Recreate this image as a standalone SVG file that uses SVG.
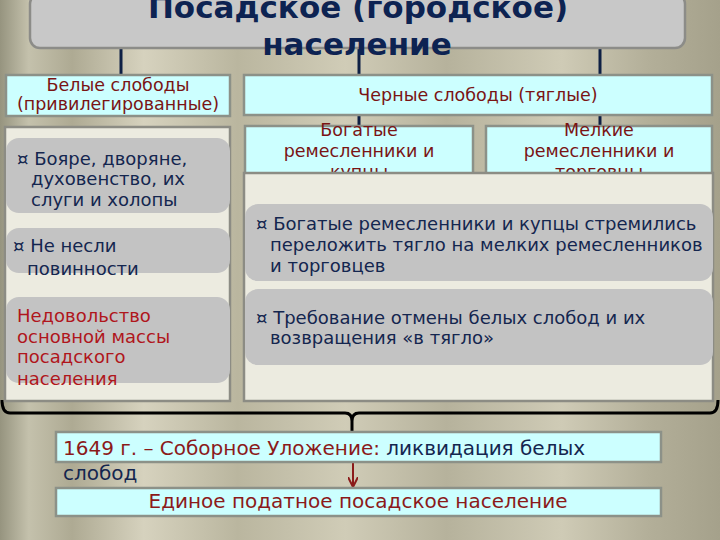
<svg xmlns="http://www.w3.org/2000/svg" width="720" height="540" viewBox="0 0 720 540">
<defs>
<linearGradient id="bg" x1="0" y1="0" x2="1" y2="0">
<stop offset="0" stop-color="#96947f"/>
<stop offset="0.04" stop-color="#c4c1ac"/>
<stop offset="0.1" stop-color="#aeaa93"/>
<stop offset="0.2" stop-color="#d6d2be"/>
<stop offset="0.33" stop-color="#bab69f"/>
<stop offset="0.48" stop-color="#d0ccb7"/>
<stop offset="0.62" stop-color="#b6b29c"/>
<stop offset="0.78" stop-color="#cfcbb6"/>
<stop offset="0.9" stop-color="#b3af99"/>
<stop offset="1" stop-color="#a5a18b"/>
</linearGradient>
<marker id="arr" viewBox="0 0 10 10" refX="9" refY="5" markerWidth="5" markerHeight="5" orient="auto">
<path d="M0,0 L10,5 L0,10" fill="none" stroke="#8b1a1a" stroke-width="2"/>
</marker>
<style>
text{font-family:"DejaVu Sans","Verdana",sans-serif}
.title{font-size:31px;font-weight:bold;fill:#0d2352;text-anchor:middle}
.cyan{fill:#ccffff;stroke:#8c9188;stroke-width:2.5}
.panel{fill:#ecebe0;stroke:#8c8c84;stroke-width:2.5}
.gray{fill:#c3c3c3}
.hdr{font-size:17.5px;fill:#7a1414;text-anchor:middle}
.body{font-size:18px;fill:#14264f}
.red{font-size:18px;fill:#b0161c}
.bot{font-size:20px}
.rd{fill:#8b1a1a}
.nv{fill:#14264f}
.line{stroke:#0e2044;stroke-width:3;fill:none}
.arrow{stroke:#8b1a1a;stroke-width:2;fill:none;marker-end:url(#arr)}
</style>
</defs>
<rect x="0" y="0" width="720" height="540" fill="url(#bg)"/>

<g id="connectors">
<line class="line" x1="121" y1="46" x2="121" y2="75"/>
<line class="line" x1="359" y1="46" x2="359" y2="126"/>
<line class="line" x1="600" y1="46" x2="600" y2="126"/>
<path d="M2,400 Q2,413 10,413 L345,413 Q352,413 352,421 L352,432 M352,421 Q352,413 359,413 L710,413 Q718,413 718,400" stroke="#000" stroke-width="3" fill="none"/>
<line class="arrow" x1="119" y1="274" x2="119" y2="296"/>
<line class="arrow" x1="353" y1="462" x2="353" y2="486"/>
</g>

<g id="title">
<rect x="30" y="-6" width="655" height="54" rx="10" fill="#c8c8c8" stroke="#8c8c88" stroke-width="2.5"/>
<text class="title" x="358" y="18">Посадское (городское)</text>
<text class="title" x="357" y="55">население</text>
</g>

<g id="white">
<rect class="cyan" x="6" y="75" width="224" height="41"/>
<text class="hdr" x="118" y="91">Белые слободы</text>
<text class="hdr" x="118" y="110">(привилегированные)</text>
</g>

<g id="black">
<rect class="cyan" x="244" y="75" width="468" height="40"/>
<text class="hdr" x="478" y="101">Черные слободы (тяглые)</text>
</g>

<g id="rich">
<rect class="cyan" x="245" y="126" width="228" height="50"/>
<text class="hdr" x="359" y="136">Богатые</text>
<text class="hdr" x="359" y="157">ремесленники и</text>
<text class="hdr" x="359" y="178">купцы</text>
</g>

<g id="small">
<rect class="cyan" x="486" y="126" width="226" height="50"/>
<text class="hdr" x="599" y="136">Мелкие</text>
<text class="hdr" x="599" y="157">ремесленники и</text>
<text class="hdr" x="599" y="178">торговцы</text>
</g>

<g id="left-panel">
<rect class="panel" x="5" y="127" width="225" height="274"/>
</g>
<g id="right-panel">
<rect class="panel" x="244" y="173" width="469" height="228"/>
</g>

<g id="boyars">
<rect class="gray" x="6" y="138" width="224" height="75" rx="13"/>
<text class="body" x="17" y="165">¤ Бояре, дворяне,</text>
<text class="body" x="31" y="185">духовенство, их</text>
<text class="body" x="31" y="206">слуги и холопы</text>
</g>

<g id="duties">
<rect class="gray" x="6" y="228" width="224" height="45" rx="13"/>
<text class="body" x="13" y="252">¤ Не несли</text>
<text class="body" x="27" y="275">повинности</text>
</g>

<g id="discontent">
<rect class="gray" x="6" y="297" width="224" height="86" rx="13"/>
<text class="red" x="17" y="322">Недовольство</text>
<text class="red" x="17" y="343">основной массы</text>
<text class="red" x="17" y="363">посадского</text>
<text class="red" x="17" y="385">населения</text>
</g>

<g id="rich-aims">
<rect class="gray" x="245" y="204" width="468" height="77" rx="13"/>
<text class="body" x="256" y="230">¤ Богатые ремесленники и купцы стремились</text>
<text class="body" x="270" y="251">переложить тягло на мелких ремесленников</text>
<text class="body" x="270" y="272">и торговцев</text>
</g>

<g id="demand">
<rect class="gray" x="245" y="289" width="468" height="76" rx="13"/>
<text class="body" x="256" y="324">¤ Требование отмены белых слобод и их</text>
<text class="body" x="270" y="344">возвращения «в тягло»</text>
</g>

<g id="code1649">
<rect class="cyan" x="56" y="432" width="605" height="30"/>
<text class="bot" x="63" y="455"><tspan class="rd">1649 г. – Соборное Уложение: </tspan><tspan class="nv">ликвидация белых</tspan></text>
<text class="bot nv" x="63" y="480">слобод</text>
</g>

<g id="single">
<rect class="cyan" x="56" y="488" width="605" height="28"/>
<text class="bot rd" x="358" y="508" text-anchor="middle">Единое податное посадское население</text>
</g>
</svg>
